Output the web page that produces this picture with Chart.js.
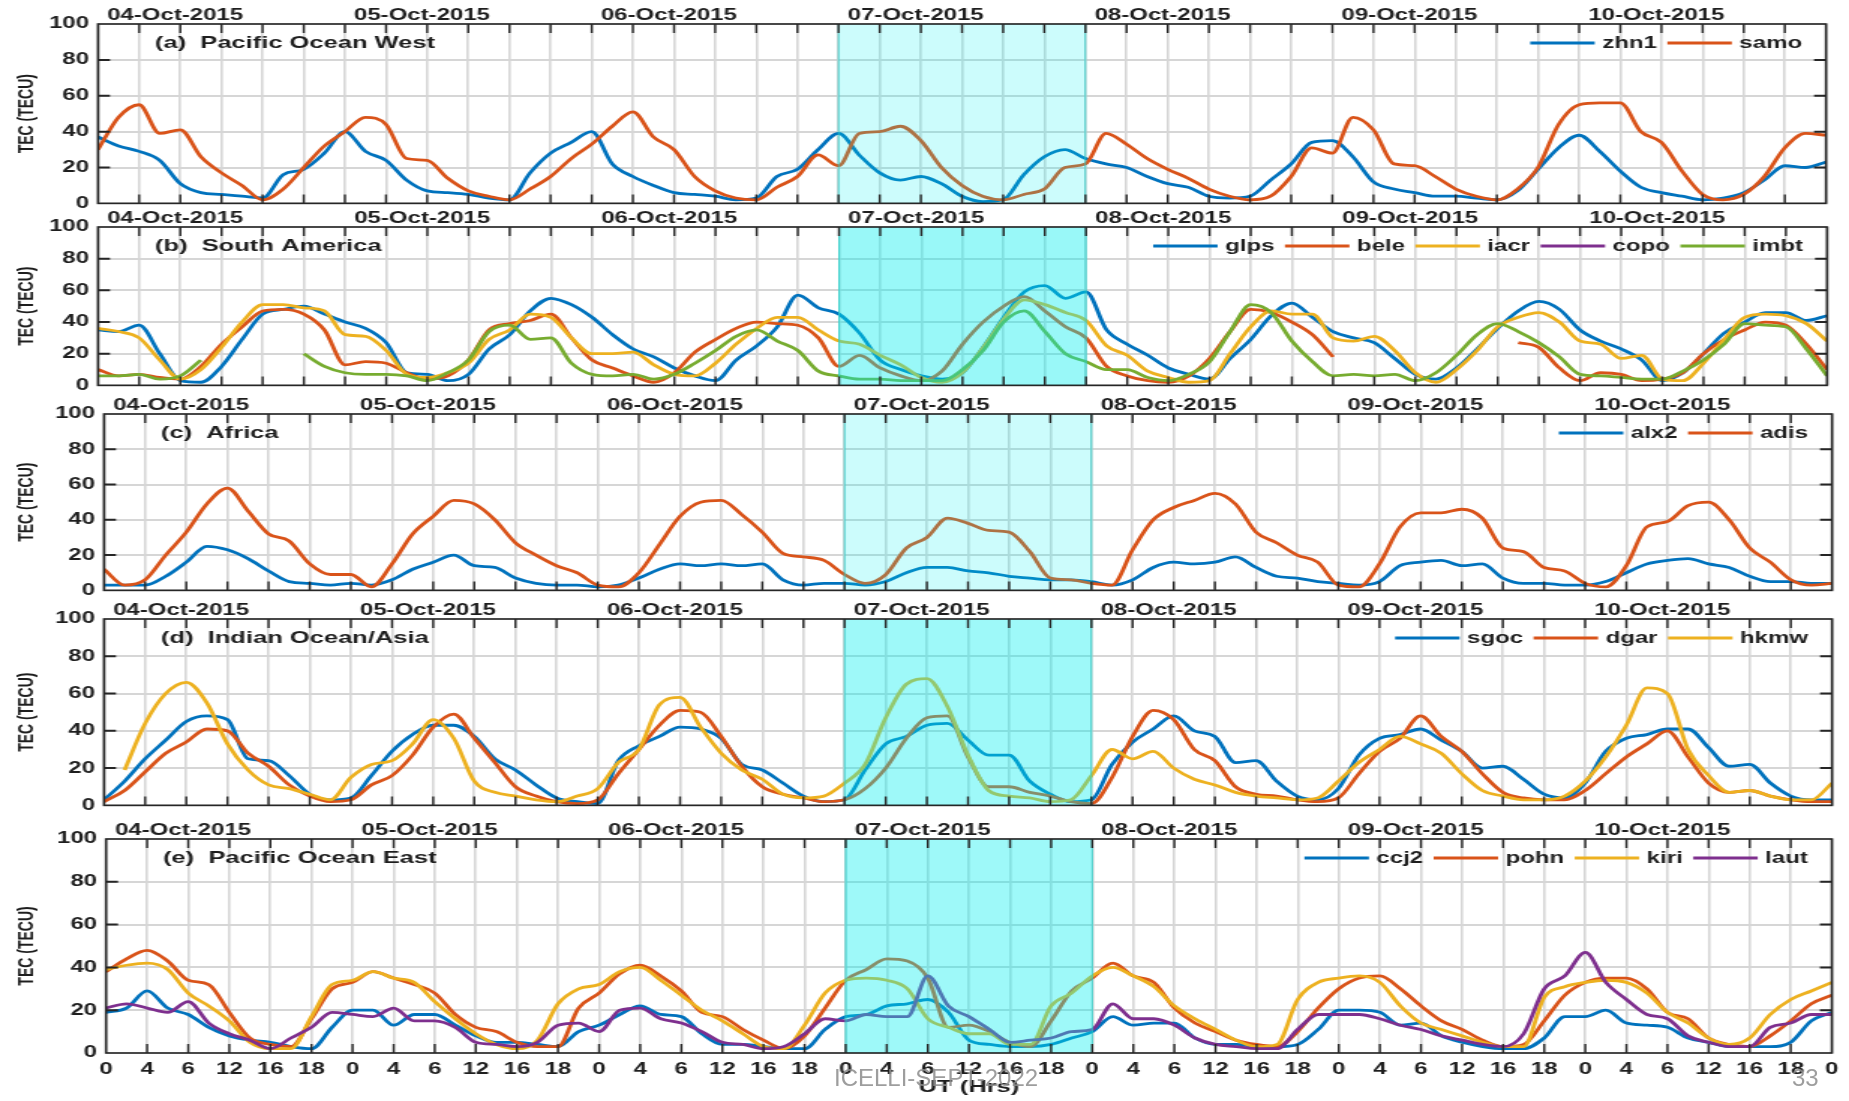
<!DOCTYPE html>
<html>
<head>
<meta charset="utf-8">
<title>TEC stations 04-10 Oct 2015</title>
<script src="https://cdn.jsdelivr.net/npm/chart.js@4.4.1/dist/chart.umd.min.js"></script>
<style>
  html, body { margin: 0; padding: 0; background: #fff; }
  body { width: 1849px; height: 1101px; position: relative; overflow: hidden; }
  .panel { position: absolute; left: 0; transform-origin: 0 0; }
  .panel canvas { display: block; }
  .footer { position: absolute; z-index: 5; font-family: "Liberation Sans Narrow", "Liberation Sans", sans-serif;
            font-size: 24px; color: rgba(140, 140, 140, 0.85); line-height: 1; }
</style>
</head>
<body>
<div id="charts"></div>
<div class="footer" style="left:834px; top:1066px;">ICELLI-SEPT-2022</div>
<div class="footer" style="left:1792px; top:1066px;">33</div>
<script>
// x grid: UT hours from 04-Oct 00 UT, every 2 h
const hours = [0,2,4,6,8,10,12,14,16,18,20,22,24,26,28,30,32,34,36,38,40,42,44,46,48,
  50,52,54,56,58,60,62,64,66,68,70,72,74,76,78,80,82,84,86,88,90,92,94,96,98,
  100,102,104,106,108,110,112,114,116,118,120,122,124,126,128,130,132,134,136,138,140,
  142,144,146,148,150,152,154,156,158,160,162,164,166,168];
const dayLabels = ['04-Oct-2015', '05-Oct-2015', '06-Oct-2015', '07-Oct-2015', '08-Oct-2015', '09-Oct-2015', '10-Oct-2015'];
const hourLabels = ['0', '4', '6', '12', '16', '18'];
const stormStart = 72;
const stormEnd = 96;

// (a) Pacific Ocean West
const stationsA = ['zhn1', 'samo'];
const zhn1 = [37,32,29,24,11,6,5,4,3,16,19,28,40,
  29,24,13,7,6,5,3,2,17,28,34,40,
  22,15,10,6,5,4,2,3,15,19,30,39,
  27,17,13,15,11,4,1,2,16,26,30,25,
  22,20,15,11,9,4,3,4,13,22,34,35,
  26,12,8,6,4,4,3,2,7,19,31,38,
  29,18,9,6,4,2,3,6,13,21,20,23];
const samo = [30,48,55,39,41,26,17,10,2,8,20,32,40,
  48,44,25,24,14,7,4,2,8,15,25,33,
  43,51,37,30,15,7,3,2,9,15,27,21,
  39,40,43,35,20,10,4,2,5,8,20,22,
  39,33,25,19,14,8,4,2,4,15,31,28,
  48,41,22,21,15,8,4,2,8,20,44,55,
  56,56,40,34,18,5,2,5,15,31,39,38];

// (b) South America
const stationsB = ['glps', 'bele', 'iacr', 'copo', 'imbt'];
const glps = [35,34,38,20,3,2,12,29,45,48,50,45,40,
  36,27,8,7,3,7,23,32,47,55,51,43,
  32,23,18,11,6,3,16,25,37,57,49,45,
  33,16,10,6,4,8,24,43,59,63,55,59,
  35,26,19,11,7,4,17,29,44,52,43,34,
  30,27,17,7,4,11,23,36,47,53,48,35,
  28,23,16,3,8,20,33,40,46,46,41,44];
const bele = [10,6,7,5,4,12,26,37,47,48,45,35,13,
  15,14,8,4,6,16,35,39,41,45,30,16,
  11,6,2,8,21,29,36,40,39,38,30,12,
  19,11,6,3,9,26,40,50,56,47,37,30,
  12,6,3,2,6,17,34,48,46,40,32,18,
  null,null,null,null,null,null,null,null,27,24,11,3,
  8,7,3,4,8,20,29,35,40,38,26,10];
const iacr = [36,34,30,16,4,10,24,40,51,51,49,47,32,
  31,22,7,5,8,14,29,35,45,43,30,20,
  20,21,13,7,6,14,26,36,43,43,35,28,
  26,19,13,5,2,8,24,42,54,51,46,41,
  25,19,9,5,2,3,20,37,47,45,45,30,
  28,31,22,8,2,10,22,37,43,46,40,28,
  26,17,19,4,3,14,29,43,45,44,39,28];
const copo = [];
const imbt = [6,6,7,4,6,16,null,null,null,null,20,12,8,
  7,7,6,3,8,16,34,38,29,30,14,7,
  6,7,4,7,14,22,31,35,28,22,9,6,
  4,4,3,3,3,10,22,40,47,34,20,15,
  10,10,5,3,7,15,34,51,46,28,15,6,
  7,6,7,3,8,19,32,39,34,27,18,7,
  6,5,4,4,9,16,26,39,38,37,23,6];

// (c) Africa
const stationsC = ['alx2', 'adis'];
const alx2 = [3,3,3,8,16,25,23,18,11,5,4,3,4,
  3,6,12,16,20,14,13,7,4,3,3,2,
  3,7,12,15,14,15,14,15,6,3,4,4,
  3,5,10,13,13,11,10,8,7,6,6,5,
  3,6,13,16,15,16,19,13,8,7,5,4,
  3,5,14,16,17,14,15,7,4,4,3,3,
  5,10,15,17,18,15,13,8,5,5,4,4];
const adis = [12,3,6,20,33,49,58,45,32,28,15,9,9,
  2,15,32,42,51,49,40,27,20,14,10,3,
  2,10,26,42,50,51,43,33,21,19,17,9,
  4,9,24,30,41,38,34,33,22,7,6,4,
  3,23,40,47,51,55,49,33,27,20,16,3,
  2,15,36,44,44,46,41,24,22,13,11,4,
  2,14,36,39,48,50,40,24,16,6,3,4];

// (d) Indian Ocean/Asia
const stationsD = ['sgoc', 'dgar', 'hkmw'];
const sgoc = [3,13,25,35,45,48,46,25,24,16,6,3,4,
  16,29,38,43,43,37,25,19,11,4,2,1,
  24,32,37,42,41,36,22,19,12,5,2,3,
  19,33,37,43,44,35,27,27,13,6,2,3,
  22,34,41,48,40,37,23,24,13,5,3,9,
  27,36,38,41,35,29,20,21,14,6,4,12,
  29,36,38,41,41,31,21,22,12,5,3,3];
const dgar = [2,8,18,28,34,41,40,28,21,11,5,2,3,
  11,16,27,42,49,36,23,10,5,2,1,3,
  17,30,43,51,50,37,21,10,6,4,2,3,
  9,20,36,47,48,26,10,10,7,5,2,1,
  15,37,51,46,30,24,10,6,5,3,2,4,
  17,29,36,48,37,29,17,7,4,3,3,8,
  17,26,33,40,26,12,7,8,5,3,2,2];
const hkmw = [null,19,44,60,66,55,33,19,11,9,6,3,15,
  22,24,33,46,36,13,7,5,3,2,5,9,
  23,30,54,58,42,28,19,14,6,4,5,12,
  22,47,65,68,53,27,8,5,4,2,3,16,
  30,25,29,20,14,11,7,5,4,3,4,13,
  23,30,37,33,28,17,8,5,3,3,5,13,
  26,43,63,60,30,16,7,8,5,3,3,12];

// (e) Pacific Ocean East
const stationsE = ['ccj2', 'pohn', 'kiri', 'laut'];
const ccj2 = [19,21,29,21,18,12,8,6,5,3,2,12,20,
  20,13,18,18,13,8,5,5,4,3,10,13,
  18,22,18,17,9,4,4,3,2,2,11,17,
  18,22,23,25,19,6,4,3,3,4,7,10,
  17,13,14,14,7,4,4,3,3,4,11,20,
  20,19,13,14,8,5,3,2,2,7,17,17,
  20,14,13,12,7,5,3,3,3,5,15,19];
const pohn = [38,44,48,43,34,32,19,7,4,3,16,30,33,
  38,35,32,28,18,12,10,5,3,3,21,28,
  37,41,36,29,19,17,11,6,2,8,21,34,
  39,44,43,35,12,13,10,5,3,15,29,35,
  42,36,33,21,14,10,6,4,3,10,21,30,
  35,36,30,22,15,11,6,3,4,15,27,33,
  35,35,30,19,16,7,4,3,8,15,23,27];
const kiri = [39,41,42,39,28,22,15,5,2,2,17,32,34,
  38,35,33,24,16,9,4,2,6,23,30,32,
  38,40,34,27,20,15,9,3,2,13,28,34,
  35,34,30,16,12,9,9,4,4,22,28,36,
  40,36,31,22,16,11,6,3,4,25,33,35,
  36,33,22,14,11,8,5,3,3,26,31,33,
  34,33,28,19,14,7,4,7,18,25,29,33];
const laut = [21,23,21,19,24,14,9,6,2,7,12,19,18,
  17,21,15,15,12,5,4,3,5,13,14,10,
  20,21,16,14,10,5,4,2,3,9,16,15,
  18,17,17,36,22,17,11,5,6,7,10,11,
  23,16,16,13,7,4,3,2,2,11,18,18,
  18,16,13,11,8,6,4,3,9,30,36,47,
  33,25,18,16,8,5,3,3,12,14,18,18];

// matlab default line colours
const BLUE = '#0072BD', ORANGE = '#D95319', YELLOW = '#EDB120', PURPLE = '#7E2F8E', GREEN = '#77AC30';

const panels = [
  { title: '(a)  Pacific Ocean West', names: stationsA, series: [zhn1, samo], colors: [BLUE, ORANGE], shade: 0.2 },
  { title: '(b)  South America', names: stationsB, series: [glps, bele, iacr, copo, imbt], colors: [BLUE, ORANGE, YELLOW, PURPLE, GREEN], shade: 0.4 },
  { title: '(c)  Africa', names: stationsC, series: [alx2, adis], colors: [BLUE, ORANGE], shade: 0.2 },
  { title: '(d)  Indian Ocean/Asia', names: stationsD, series: [sgoc, dgar, hkmw], colors: [BLUE, ORANGE, YELLOW], shade: 0.38 },
  { title: '(e)  Pacific Ocean East', names: stationsE, series: [ccj2, pohn, kiri, laut], colors: [BLUE, ORANGE, YELLOW, PURPLE], shade: 0.38 }
];

// page geometry of each plot box (px)
const boxes = [
  { top: 24, bottom: 207, left: 98, right: 1826 },
  { top: 227, bottom: 389, left: 98, right: 1827 },
  { top: 414, bottom: 594, left: 104, right: 1832 },
  { top: 619, bottom: 809, left: 104, right: 1832 },
  { top: 839, bottom: 1053, left: 106, right: 1833 }
];

// the original figure is stretched sideways, so every canvas is drawn narrow and widened with css
const CW = 1233;
const SX = 1849 / CW;
const PAD_TOP = 24;
const FONT = '"Liberation Sans", Arial, Helvetica, sans-serif';
const INK = '#1e1e1e';

Chart.defaults.font.family = FONT;
Chart.defaults.color = INK;

const panelDecor = {
  id: 'panelDecor',
  afterDatasetsDraw(chart, args, opts) {
    const { ctx, chartArea: a, scales: { x, y } } = chart;
    const x0 = x.getPixelForValue(stormStart);
    const x1 = x.getPixelForValue(stormEnd);
    ctx.save();
    // storm day overlay, drawn over the lines like the original
    ctx.fillStyle = `rgba(0, 238, 238, ${opts.shade})`;
    ctx.fillRect(x0, a.top, x1 - x0, a.bottom - a.top);
    ctx.strokeStyle = 'rgba(40, 205, 200, 0.9)';
    ctx.lineWidth = 0.9;
    ctx.beginPath();
    ctx.moveTo(x0, a.top); ctx.lineTo(x0, a.bottom);
    ctx.moveTo(x1, a.top); ctx.lineTo(x1, a.bottom);
    ctx.stroke();

    // inward tick marks
    ctx.strokeStyle = '#262626';
    ctx.lineWidth = 1.4;
    ctx.beginPath();
    x.ticks.forEach(t => {
      if (t.value <= 0 || t.value >= 168) return;
      const px = x.getPixelForValue(t.value);
      ctx.moveTo(px, a.top); ctx.lineTo(px, a.top + 9);
      ctx.moveTo(px, a.bottom); ctx.lineTo(px, a.bottom - 9);
    });
    ctx.stroke();
    ctx.lineWidth = 2;
    ctx.beginPath();
    y.ticks.forEach(t => {
      if (t.value <= 0 || t.value >= 100) return;
      const py = y.getPixelForValue(t.value);
      ctx.moveTo(a.left, py); ctx.lineTo(a.left + 8, py);
      ctx.moveTo(a.right, py); ctx.lineTo(a.right - 8, py);
    });
    ctx.stroke();
    ctx.lineWidth = 1.6;
    ctx.strokeRect(a.left, a.top, a.right - a.left, a.bottom - a.top);
    ctx.restore();
  },
  afterDraw(chart, args, opts) {
    const { ctx, chartArea: a, scales: { x } } = chart;
    ctx.save();
    ctx.fillStyle = INK;
    // dates above the box
    ctx.font = `bold 16px ${FONT}`;
    ctx.textAlign = 'center';
    ctx.textBaseline = 'alphabetic';
    dayLabels.forEach((d, i) => ctx.fillText(d, x.getPixelForValue(i * 24 + 7.5), a.top - 4));
    // panel title
    ctx.font = `bold 17px ${FONT}`;
    ctx.textAlign = 'left';
    ctx.textBaseline = 'middle';
    ctx.fillText(opts.title, a.left + 38, a.top + 19);
    // legend, top right inside the box
    ctx.font = `bold 16px ${FONT}`;
    const items = chart.data.datasets.map(ds => ({ label: ds.label, color: ds.borderColor, w: ctx.measureText(ds.label).width }));
    const lineLen = 43, gapText = 5, gapItem = 7;
    const total = items.reduce((s, it) => s + lineLen + gapText + it.w, 0) + gapItem * (items.length - 1);
    let cx = a.right - 16 - total;
    const cy = a.top + 19;
    items.forEach(it => {
      ctx.strokeStyle = it.color;
      ctx.lineWidth = 2.8;
      ctx.beginPath();
      ctx.moveTo(cx, cy); ctx.lineTo(cx + lineLen, cy);
      ctx.stroke();
      cx += lineLen + gapText;
      ctx.fillStyle = INK;
      ctx.fillText(it.label, cx, cy + 1);
      cx += it.w + gapItem;
    });
    ctx.restore();
  }
};

const holderRoot = document.getElementById('charts');

panels.forEach((p, idx) => {
  const box = boxes[idx];
  const last = idx === panels.length - 1;
  const top = box.top - PAD_TOP;
  const height = last ? 1101 - top : box.bottom - top + 12;

  const holder = document.createElement('div');
  holder.className = 'panel';
  holder.style.top = top + 'px';
  holder.style.transform = `scaleX(${SX})`;
  const canvas = document.createElement('canvas');
  canvas.width = CW;
  canvas.height = height;
  holder.appendChild(canvas);
  holderRoot.appendChild(holder);

  const n = p.series.length;
  new Chart(canvas, {
    type: 'line',
    data: {
      datasets: p.series.map((vals, i) => ({
        label: p.names[i],
        data: vals.map((v, k) => ({ x: hours[k], y: v })),
        borderColor: p.colors[i],
        backgroundColor: p.colors[i],
        borderWidth: 2.8,
        pointRadius: 0,
        cubicInterpolationMode: 'monotone',
        spanGaps: false,
        order: n - i
      }))
    },
    options: {
      responsive: false,
      animation: false,
      devicePixelRatio: 1,
      layout: { padding: { top: PAD_TOP, right: CW - box.right / SX, bottom: last ? 0 : 12, left: 0 } },
      scales: {
        x: {
          type: 'linear',
          min: 0,
          max: 168,
          afterFit: s => { s.height = last ? 48 : 0; },
          ticks: {
            display: last,
            stepSize: 4,
            autoSkip: false,
            maxRotation: 0,
            padding: 7,
            color: INK,
            font: { size: 16, weight: 'bold' },
            callback: v => hourLabels[(v % 24) / 4]
          },
          grid: { color: '#d6d6d6', lineWidth: 1.6, drawTicks: false },
          border: { display: false },
          title: { display: last, text: 'UT (Hrs)', color: INK, font: { size: 17, weight: 'bold' }, padding: { top: 0, bottom: 3 } }
        },
        y: {
          min: 0,
          max: 100,
          afterFit: s => { s.width = box.left / SX; },
          ticks: { stepSize: 20, padding: 6, color: INK, font: { size: 16, weight: 'bold' } },
          grid: { color: '#d6d6d6', lineWidth: 2, drawTicks: false },
          border: { display: false },
          title: { display: true, text: 'TEC (TECU)', color: INK, font: { size: 14, weight: 'bold' }, padding: { top: 10, bottom: 0 } }
        }
      },
      plugins: {
        legend: { display: false },
        tooltip: { enabled: false },
        panelDecor: { title: p.title, shade: p.shade }
      }
    },
    plugins: [panelDecor]
  });
});
</script>
</body>
</html>
